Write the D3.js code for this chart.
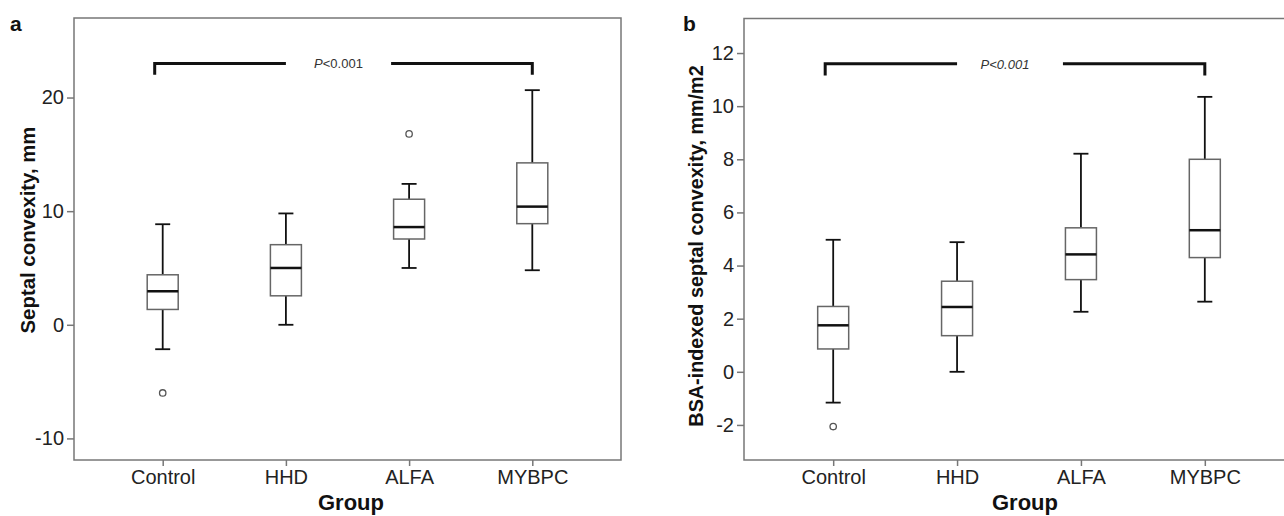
<!DOCTYPE html>
<html>
<head>
<meta charset="utf-8">
<script src="https://cdn.jsdelivr.net/npm/d3@7"></script>
<style>
body { margin: 0; background: #fff; }
svg { display: block; font-family: "Liberation Sans", Arial, sans-serif; }
.frame { fill: none; stroke: #777; stroke-width: 1.5; }
.tick line { stroke: #777; stroke-width: 1.5; }
.tick text { fill: #222; font-size: 20px; }
.box { fill: #fff; stroke: #666; stroke-width: 1.5; }
.median { stroke: #111; stroke-width: 2.5; }
.whisker { stroke: #111; stroke-width: 1.8; }
.outlier { fill: #fff; stroke: #555; stroke-width: 1.3; }
.bracket { fill: none; stroke: #111; stroke-width: 3; }
.title { font-weight: bold; fill: #111; }
.panel { font-weight: bold; font-size: 21px; fill: #111; }
.ptext { font-size: 13px; fill: #333; }
</style>
</head>
<body>
<svg id="fig" width="1284" height="516"></svg>
<script>
// DATA
var groups = ['Control', 'HHD', 'ALFA', 'MYBPC'];

// panel a: septal convexity, mm
var conv_lo = [-2.15, 0, 5.0, 4.8];
var conv_q1 = [1.35, 2.55, 7.55, 8.9];
var conv_med = [2.95, 5.0, 8.6, 10.4];
var conv_q3 = [4.4, 7.05, 11.05, 14.25];
var conv_hi = [8.85, 9.8, 12.4, 20.65];
var conv_out = [['Control', -6.0], ['ALFA', 16.8]];
var conv_ticks = [-10, 0, 10, 20];

// panel b: BSA-indexed septal convexity, mm/m2
var bsa_lo = [-1.16, 0, 2.26, 2.64];
var bsa_q1 = [0.86, 1.36, 3.47, 4.3];
var bsa_med = [1.75, 2.44, 4.42, 5.33];
var bsa_q3 = [2.46, 3.41, 5.42, 8.0];
var bsa_hi = [4.97, 4.88, 8.21, 10.35];
var bsa_out = [['Control', -2.06]];
var bsa_ticks = [-2, 0, 2, 4, 6, 8, 10, 12];

var svg = d3.select('#fig');

// CHART
var chrt = {
    build_panel: function(cfg) {
        var g = svg.append('g');
        var x = d3.scalePoint().domain(groups).range([cfg.left, cfg.right]).padding(0.72);
        var y = d3.scaleLinear().domain(cfg.domain).range([cfg.bottom, cfg.top]);
        var bw = 31;

        // frame
        g.append('rect')
            .attr('class', 'frame')
            .attr('x', cfg.left).attr('y', cfg.top)
            .attr('width', cfg.right - cfg.left).attr('height', cfg.bottom - cfg.top);

        // axes (plain hyphen for negatives, like the original)
        var ya = g.append('g')
            .attr('transform', 'translate(' + cfg.left + ',0)')
            .call(d3.axisLeft(y).tickValues(cfg.ticks).tickSize(7).tickPadding(3)
                .tickFormat(function(d) { return String(d); }));
        ya.select('.domain').remove();

        var xa = g.append('g')
            .attr('transform', 'translate(0,' + cfg.bottom + ')')
            .call(d3.axisBottom(x).tickSize(6).tickPadding(4));
        xa.select('.domain').remove();

        // boxes
        groups.forEach(function(k, i) {
            var cx = x(k);
            g.append('line').attr('class', 'whisker')
                .attr('x1', cx).attr('x2', cx).attr('y1', y(cfg.hi[i])).attr('y2', y(cfg.q3[i]));
            g.append('line').attr('class', 'whisker')
                .attr('x1', cx).attr('x2', cx).attr('y1', y(cfg.q1[i])).attr('y2', y(cfg.lo[i]));
            g.append('line').attr('class', 'whisker')
                .attr('x1', cx - 7.5).attr('x2', cx + 7.5).attr('y1', y(cfg.hi[i])).attr('y2', y(cfg.hi[i]));
            g.append('line').attr('class', 'whisker')
                .attr('x1', cx - 7.5).attr('x2', cx + 7.5).attr('y1', y(cfg.lo[i])).attr('y2', y(cfg.lo[i]));
            g.append('rect').attr('class', 'box')
                .attr('x', cx - bw / 2).attr('width', bw)
                .attr('y', y(cfg.q3[i])).attr('height', y(cfg.q1[i]) - y(cfg.q3[i]));
            g.append('line').attr('class', 'median')
                .attr('x1', cx - bw / 2).attr('x2', cx + bw / 2)
                .attr('y1', y(cfg.med[i])).attr('y2', y(cfg.med[i]));
        });

        g.selectAll('circle.outlier')
            .data(cfg.out)
            .enter().append('circle')
            .attr('class', 'outlier')
            .attr('cx', function(d) { return x(d[0]); })
            .attr('cy', function(d) { return y(d[1]); })
            .attr('r', 3.2);

        // significance brackets
        var b = cfg.bracket;
        g.append('path').attr('class', 'bracket')
            .attr('d', 'M' + (x('Control') - 8) + ',' + y(b[1]) + 'V' + y(b[0]) + 'H' + x('HHD'));
        g.append('path').attr('class', 'bracket')
            .attr('d', 'M' + (x('ALFA') - 18) + ',' + y(b[0]) + 'H' + x('MYBPC') + 'V' + y(b[1]));

        var pt = g.append('text').attr('class', 'ptext')
            .attr('x', (x('HHD') + x('ALFA')) / 2 + cfg.poff)
            .attr('y', y(b[0]) + 5)
            .attr('text-anchor', 'middle');
        pt.append('tspan').style('font-style', 'italic').text('P');
        pt.append('tspan').style('font-style', cfg.pitalic ? 'italic' : 'normal').text('<0.001');

        // titles
        g.append('text').attr('class', 'title')
            .attr('transform', 'translate(' + cfg.ytx + ',' + cfg.yty + ') rotate(-90)')
            .attr('text-anchor', 'middle').attr('dy', '0.35em')
            .style('font-size', cfg.ysize + 'px')
            .text(cfg.ytitle);
        g.append('text').attr('class', 'title')
            .attr('x', cfg.gx).attr('y', 510)
            .attr('text-anchor', 'middle')
            .style('font-size', '22px')
            .text('Group');
        g.append('text').attr('class', 'panel')
            .attr('x', cfg.px).attr('y', 31)
            .text(cfg.panel);
    }
};

chrt.build_panel({
    left: 74, right: 621, top: 18, bottom: 460,
    domain: [-11.9, 27], ticks: conv_ticks,
    lo: conv_lo, q1: conv_q1, med: conv_med, q3: conv_q3, hi: conv_hi, out: conv_out,
    bracket: [23, 22], poff: -9, pitalic: false,
    ytitle: 'Septal convexity, mm', ytx: 28, yty: 230, ysize: 20.4,
    gx: 351, px: 10, panel: 'a'
});

chrt.build_panel({
    left: 744, right: 1294, top: 18.5, bottom: 460,
    domain: [-3.32, 13.3], ticks: bsa_ticks,
    lo: bsa_lo, q1: bsa_q1, med: bsa_med, q3: bsa_q3, hi: bsa_hi, out: bsa_out,
    bracket: [11.6, 11.15], poff: -14, pitalic: true,
    ytitle: 'BSA-indexed septal convexity, mm/m2', ytx: 696, yty: 246, ysize: 19.8,
    gx: 1025, px: 683, panel: 'b'
});
</script>
</body>
</html>
